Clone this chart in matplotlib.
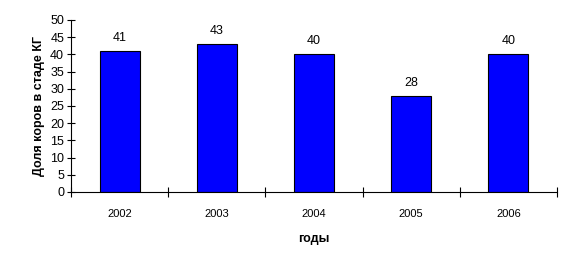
import numpy as np
import matplotlib
matplotlib.use("Agg")
import matplotlib.pyplot as plt

plt.rcParams['font.family'] = ['Liberation Sans', 'DejaVu Sans']

years = ["2002", "2003", "2004", "2005", "2006"]
share = [41, 43, 40, 28, 40]

fig = plt.figure(figsize=(5.69, 2.70), dpi=100)
ax = fig.add_axes([0.1248, 0.289, 0.854, 0.637])

x = np.arange(len(years))
ax.bar(x, share, width=0.41, color='#0000FF', edgecolor='black', linewidth=0.8)
for xi, v in zip(x, share):
    ax.text(xi, v + 2, str(v), ha='center', va='bottom', fontsize=9)

ax.set_xlim(-0.5, len(years) - 0.5)
ax.set_ylim(0, 50)
ax.set_yticks(range(0, 51, 5))
ax.set_xticks(x)
ax.set_xticklabels(years)
ax.set_xticks(np.arange(-0.5, len(years), 1), minor=True)
ax.tick_params(axis='x', which='major', length=0, pad=12, labelsize=8)
ax.tick_params(axis='x', which='minor', direction='inout', length=7, width=0.8)
ax.tick_params(axis='y', direction='inout', length=6, width=0.8, labelsize=9, pad=2)

for s in ['top', 'right']:
    ax.spines[s].set_visible(False)
for s in ['left', 'bottom']:
    ax.spines[s].set_linewidth(0.8)

ax.set_xlabel('годы', fontsize=9, fontweight='bold', labelpad=10)
ax.set_ylabel('Доля коров в стаде КГ', fontsize=9, fontweight='bold', labelpad=4)

fig.savefig('out.png', dpi=100)
